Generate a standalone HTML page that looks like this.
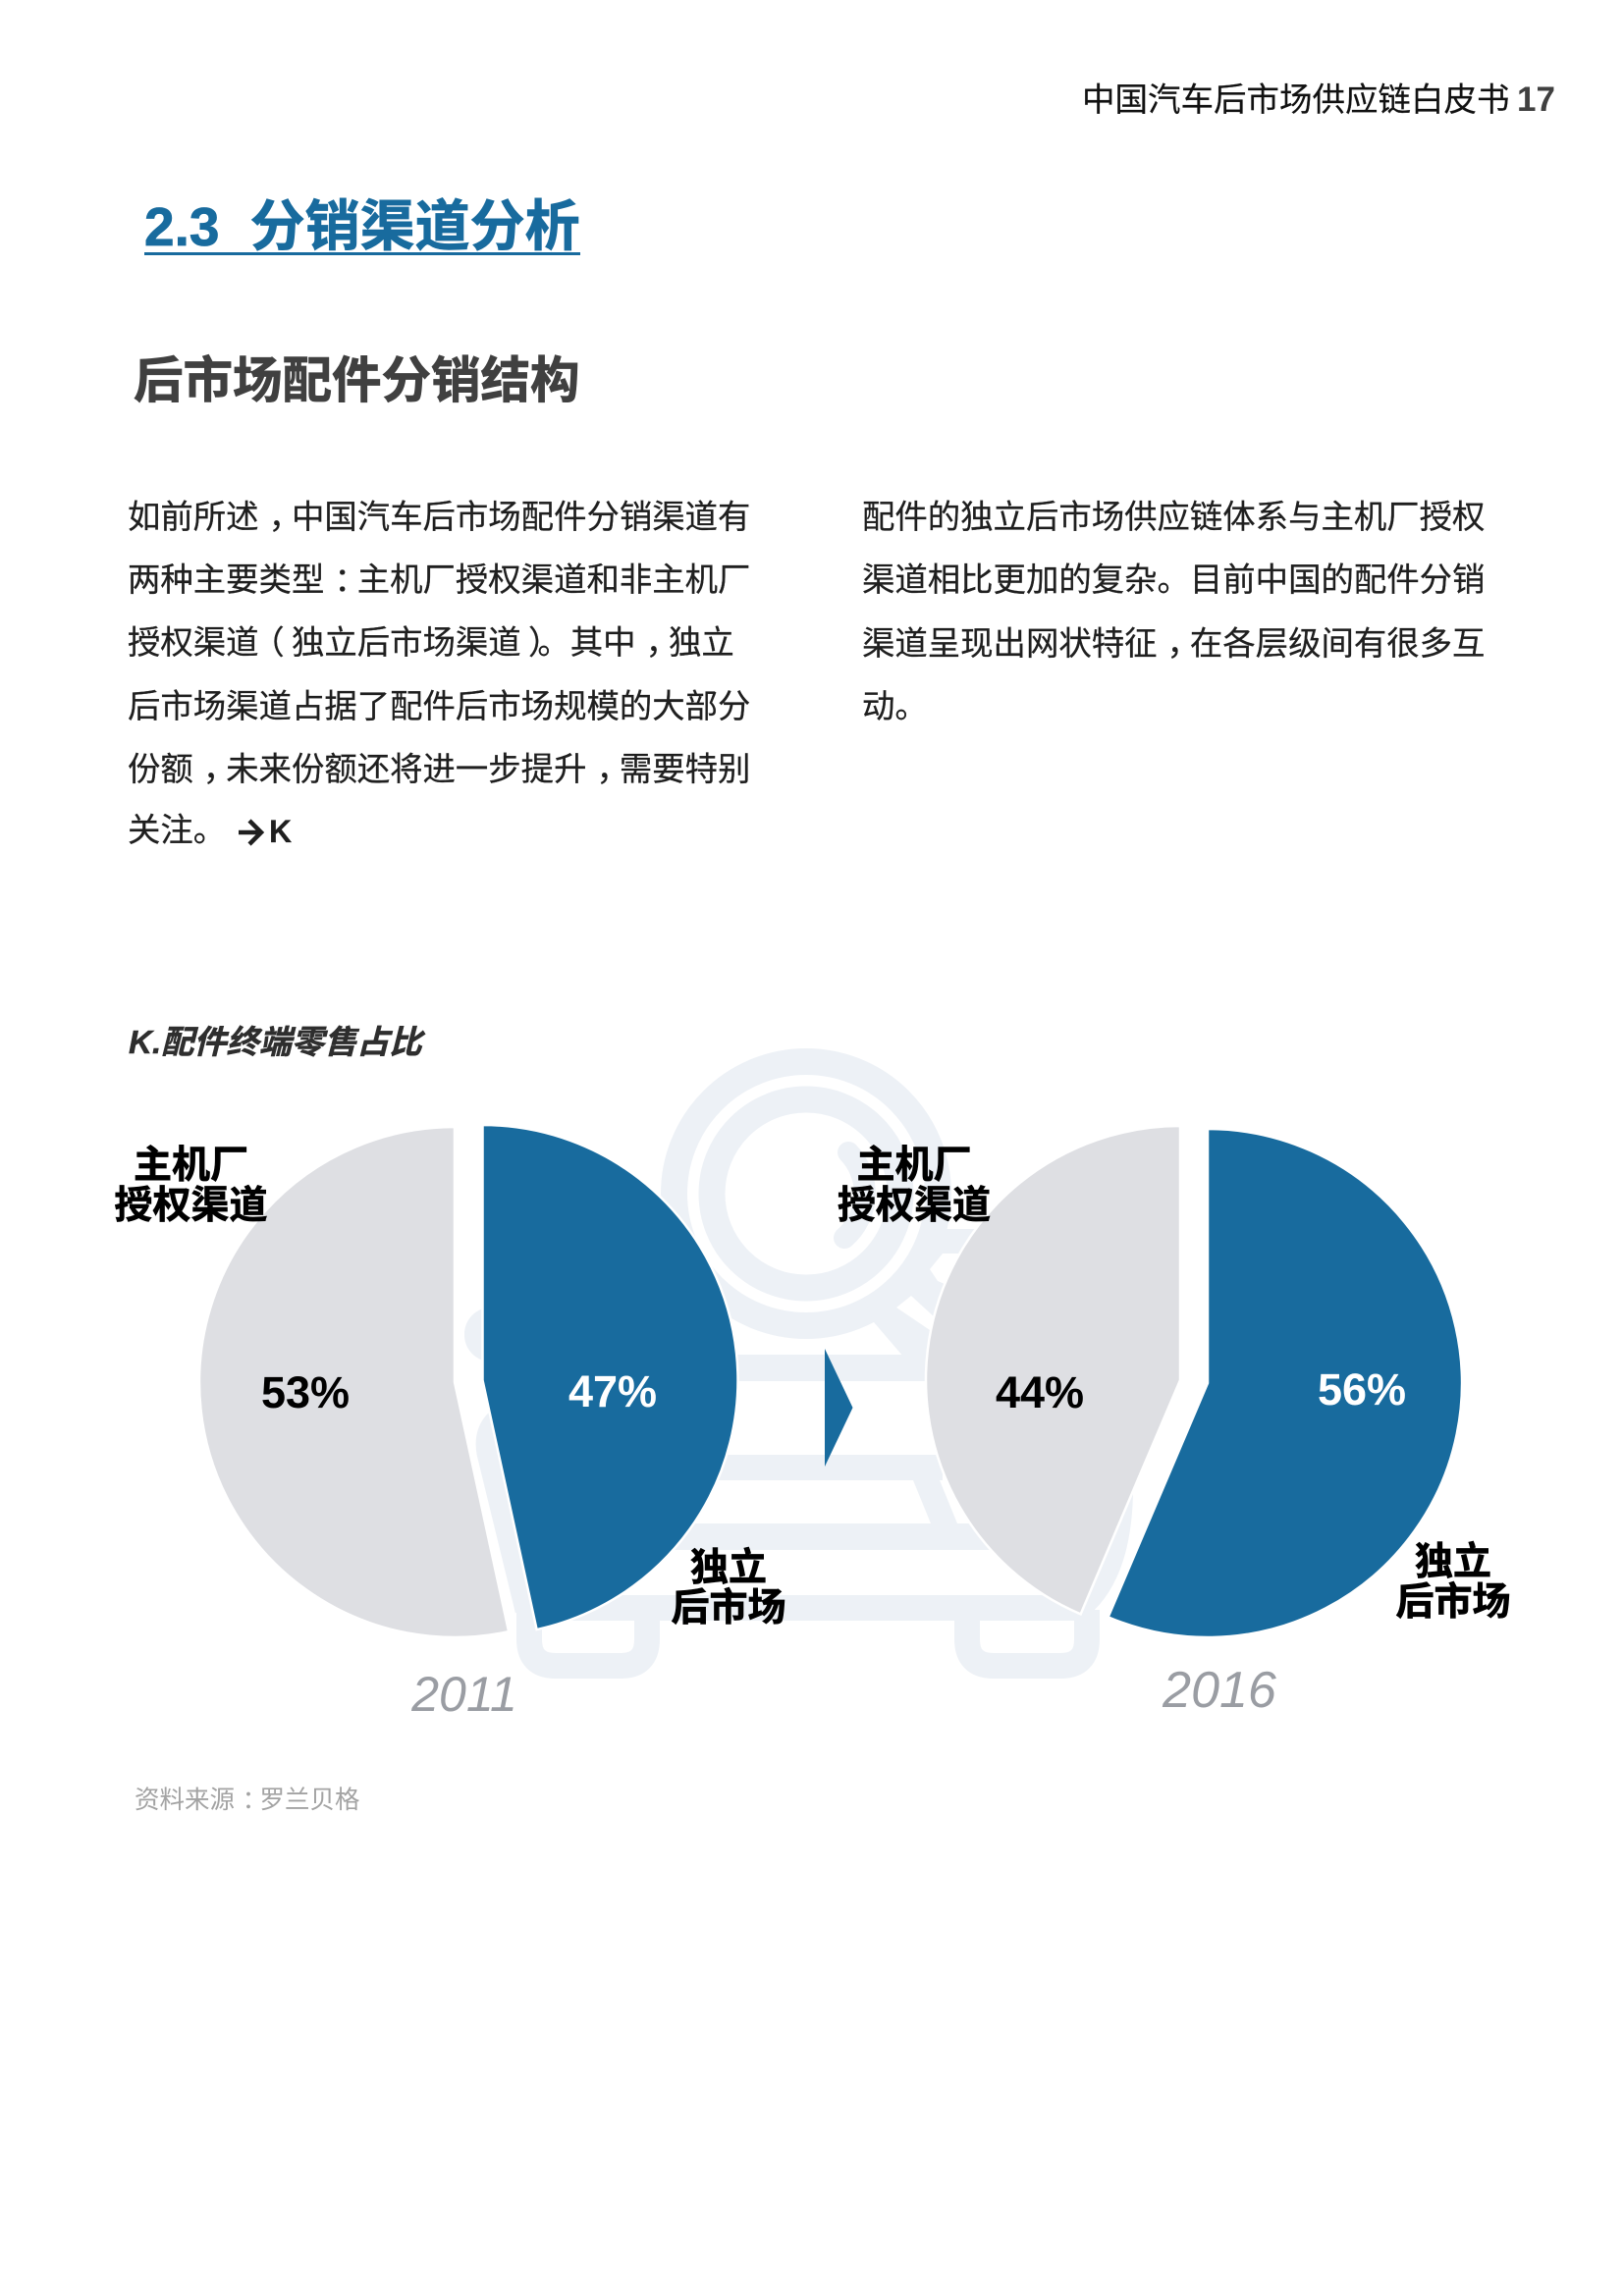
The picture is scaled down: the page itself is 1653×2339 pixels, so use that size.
<!DOCTYPE html>
<html lang="zh">
<head>
<meta charset="utf-8">
<title>中国汽车后市场供应链白皮书 17</title>
<style>
html,body{margin:0;padding:0;background:#fff}
#page{position:relative;width:1653px;height:2339px;overflow:hidden;background:#fff;font-family:"Liberation Sans","Noto Sans CJK SC",sans-serif}
.t{position:absolute;white-space:nowrap;margin:0}
.body-line{font-size:33.4px;line-height:64px;color:#1f1f1f;-webkit-text-stroke:.25px #1f1f1f}
.c{position:relative;left:.3em}
.o{position:relative;left:-.22em}
.e{position:relative;left:.22em}
.lab{font-size:39px;line-height:40.5px;font-weight:700;color:#000;text-align:center;transform:translateX(-50%);-webkit-text-stroke:.7px #000}
svg{position:absolute;left:0;top:0}
</style>
</head>
<body>
<div id="page">
  <svg id="chart" width="1653" height="2339" viewBox="0 0 1653 2339">
    <g id="watermark" fill="none" stroke="#edf1f6">
      <circle cx="821" cy="1216" r="134.5" stroke-width="27"/>
      <circle cx="821" cy="1216" r="96" stroke-width="27"/>
      <path d="M 864 1174 A 60 60 0 0 1 860 1261" stroke-width="22" stroke-linecap="round"/>
      <polygon points="940,1252 1010,1252 1010,1382 920,1382 890,1347 880,1322 950,1280" fill="#edf1f6" stroke="none"/>
      <polygon points="947,1293 960,1277 990,1277 990,1320 955,1305" fill="#fff" stroke="none"/>
      <polygon points="913,1332 928,1320 953,1343 947,1355" fill="#fff" stroke="none"/>
      <rect x="473" y="1332" width="140" height="55" rx="27" fill="#edf1f6" stroke="none"/>
      <rect x="500" y="1380" width="500" height="27" fill="#edf1f6" stroke="none"/>
      <rect x="520" y="1482" width="440" height="26" fill="#edf1f6" stroke="none"/>
      <polygon points="930,1508 957,1508 975,1552 948,1552" fill="#edf1f6" stroke="none"/>
      <rect x="520" y="1552" width="500" height="27" fill="#edf1f6" stroke="none"/>
      <rect x="530" y="1625" width="570" height="26" fill="#edf1f6" stroke="none"/>
      <path d="M 570 1433 Q 490 1433 499 1480 L 538 1640" stroke-width="27"/>
      <path d="M 539 1640 V 1670 Q 539 1697 566 1697 H 632 Q 659 1697 659 1670 V 1640" stroke-width="26"/>
      <path d="M 985 1640 V 1670 Q 985 1697 1012 1697 H 1080 Q 1107 1697 1107 1670 V 1640" stroke-width="26"/>
      <path d="M 1141 1505 Q 1143 1600 1100 1636" stroke-width="26"/>
    </g>
    <g id="pies"></g>
    <polygon points="840,1374 868.5,1434 840,1494" fill="#186b9e"/>
    <path d="M 243 848 H 265 M 254 836 L 266 848 L 254 860" fill="none" stroke="#1f1f1f" stroke-width="4.5"/>
  </svg>

  <p class="t" style="left:1102px;top:79px;font-size:33.5px;line-height:48px;color:#111;-webkit-text-stroke:.2px #111">中国汽车后市场供应链白皮书</p>
  <p class="t" style="left:1545px;top:78px;font-size:35px;line-height:48px;font-weight:700;color:#404040">17</p>

  <h1 class="t" style="left:147px;top:192px;font-size:56px;line-height:78px;font-weight:700;color:#186b9e;border-bottom:3.5px solid #186b9e;height:65px;overflow:visible;-webkit-text-stroke:.8px #186b9e"><span style="font-size:55px">2.3</span>&nbsp;&nbsp;分销渠道分析</h1>

  <h2 class="t" style="left:136px;top:351px;font-size:50.5px;line-height:74px;font-weight:700;color:#404040;-webkit-text-stroke:.8px #404040">后市场配件分销结构</h2>

  <div>
    <p class="t body-line" style="left:130px;top:496px">如前所述<span class="c">，</span>中国汽车后市场配件分销渠道有</p>
    <p class="t body-line" style="left:130px;top:560px">两种主要类型<span class="c">：</span>主机厂授权渠道和非主机厂</p>
    <p class="t body-line" style="left:130px;top:624px">授权渠道<span class="o">（</span>独立后市场渠道<span class="e">）</span>。其中<span class="c">，</span>独立</p>
    <p class="t body-line" style="left:130px;top:689px">后市场渠道占据了配件后市场规模的大部分</p>
    <p class="t body-line" style="left:130px;top:753px">份额<span class="c">，</span>未来份额还将进一步提升<span class="c">，</span>需要特别</p>
    <p class="t body-line" style="left:130px;top:815px">关注。</p>
    <p class="t body-line" style="left:274px;top:815px;font-weight:700;font-size:32px">K</p>
  </div>
  <div>
    <p class="t body-line" style="left:882px;top:496px;margin-left:-4px">配件的独立后市场供应链体系与主机厂授权</p>
    <p class="t body-line" style="left:882px;top:560px;margin-left:-4px">渠道相比更加的复杂。目前中国的配件分销</p>
    <p class="t body-line" style="left:882px;top:625px;margin-left:-4px">渠道呈现出网状特征<span class="c">，</span>在各层级间有很多互</p>
    <p class="t body-line" style="left:882px;top:689px;margin-left:-4px">动。</p>
  </div>

  <p class="t" style="left:131px;top:1039px;font-size:33.2px;line-height:48px;font-weight:700;font-style:italic;color:#2e2e2e;-webkit-text-stroke:.5px #2e2e2e">K.配件终端零售占比</p>

  <p class="t lab" style="left:194.5px;top:1168px">主机厂<br>授权渠道</p>
  <p class="t lab" style="left:936px;top:1168px;margin-left:-5px">主机厂<br>授权渠道</p>
  <p class="t lab" style="left:746px;top:1578px;margin-left:-4px">独立<br>后市场</p>
  <p class="t lab" style="left:1487px;top:1572px;margin-left:-7px">独立<br>后市场</p>

  <p class="t" style="left:137px;top:1816px;font-size:25.5px;line-height:36px;color:#a3a3a3">资料来源<span class="c">：</span>罗兰贝格</p>
</div>
<script>
var years = ['2011', '2016'];
var oemShare = [53.4, 43.6];
var independentShare = [46.6, 56.4];

var svgNS = 'http://www.w3.org/2000/svg';
var BLUE = '#186b9e';
var GRAY = '#dedfe3';
var pieRoot = document.getElementById('pies');

function angleOf(share) {
  return share / 100 * Math.PI * 2;
}
function pointAt(cx, cy, r, angle) {
  return [cx + r * Math.sin(angle), cy - r * Math.cos(angle)];
}
function slicePath(cx, cy, r, startAngle, endAngle) {
  var a = pointAt(cx, cy, r, startAngle);
  var b = pointAt(cx, cy, r, endAngle);
  var large = Math.abs(endAngle - startAngle) > Math.PI ? 1 : 0;
  return 'M' + cx + ' ' + cy + ' L' + a[0].toFixed(2) + ' ' + a[1].toFixed(2) +
    ' A' + r + ' ' + r + ' 0 ' + large + ' 1 ' + b[0].toFixed(2) + ' ' + b[1].toFixed(2) + ' Z';
}
function addSlice(cx, cy, r, startAngle, endAngle, fill, name) {
  var p = document.createElementNS(svgNS, 'path');
  p.setAttribute('d', slicePath(cx, cy, r, startAngle, endAngle));
  p.setAttribute('fill', fill);
  p.setAttribute('stroke', '#fff');
  p.setAttribute('stroke-width', '2.5');
  
  
  pieRoot.appendChild(p);
}
function addText(x, y, str, size, fill, italic, weight, name) {
  var t = document.createElementNS(svgNS, 'text');
  t.setAttribute('x', x);
  t.setAttribute('y', y);
  t.setAttribute('text-anchor', 'middle');
  t.setAttribute('font-family', '"Liberation Sans", sans-serif');
  t.setAttribute('font-size', size);
  t.setAttribute('fill', fill);
  t.setAttribute('font-weight', weight);
  if (italic) t.setAttribute('font-style', 'italic');
  
  
  t.textContent = str;
  pieRoot.appendChild(t);
}
function drawPie(i, layout) {
  var blueAngle = angleOf(independentShare[i]);
  var grayAngle = angleOf(oemShare[i]);
  addSlice(layout.grayX, layout.grayY, layout.r, -grayAngle, 0, GRAY, 'oem-slice-' + years[i]);
  addSlice(layout.blueX, layout.blueY, layout.r, 0, blueAngle, BLUE, 'independent-slice-' + years[i]);
  addText(layout.grayLabelX, layout.grayLabelY, Math.round(oemShare[i]) + '%', 45, '#000', false, 700, 'oem-value-' + years[i]);
  addText(layout.blueLabelX, layout.blueLabelY, Math.round(independentShare[i]) + '%', 45, '#fff', false, 700, 'independent-value-' + years[i]);
  addText(layout.yearX, layout.yearY, years[i], layout.yearSize, '#9a9da3', true, 400, 'year-label-' + years[i]);
}
drawPie(0, {grayX: 463, grayY: 1408, blueX: 491.5, blueY: 1406, r: 260,
  grayLabelX: 311, grayLabelY: 1434, blueLabelX: 624, blueLabelY: 1433,
  yearX: 473, yearY: 1743, yearSize: 50});
drawPie(1, {grayX: 1202, grayY: 1406, blueX: 1230, blueY: 1409, r: 259,
  grayLabelX: 1059, grayLabelY: 1434, blueLabelX: 1387, blueLabelY: 1431,
  yearX: 1242, yearY: 1739, yearSize: 52});
</script>
</body>
</html>
